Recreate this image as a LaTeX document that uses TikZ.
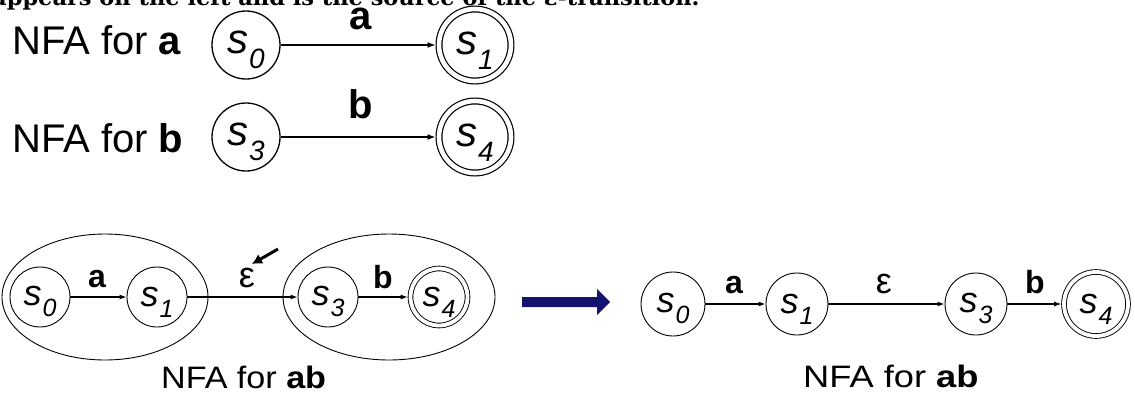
\documentclass[tikz,border=0pt]{standalone}
\usepackage{fontspec}
\setmainfont{Liberation Sans}
\newfontfamily\slabfont{DejaVu Serif}
\usetikzlibrary{arrows.meta,shapes.geometric}
\definecolor{navyarrow}{RGB}{20,20,112}
\newcommand\fs[1]{\fontsize{#1}{#1}\selectfont}
\newcommand\sttop[1]{\rule{0pt}{33pt}{\fs{42}\itshape s}\kern1pt\raisebox{-15pt}{\fs{28}\itshape #1}}
\newcommand\stbot[1]{\rule{0pt}{29pt}{\fs{36}\itshape s}\kern1pt\raisebox{-11pt}{\fs{25}\itshape #1}}
\tikzset{
  x=1pt, y=-1pt,
  stbig/.style={circle, draw, line width=1.3pt, minimum size=68pt, inner sep=0pt},
  acbig/.style={circle, draw, line width=1.2pt, double, double distance=4.6pt, minimum size=72pt, inner sep=0pt, outer sep=3.5pt},
  stsmall/.style={circle, draw, line width=0.9pt, minimum size=#1, inner sep=0pt},
  acsmall/.style={circle, draw, line width=0.9pt, double, double distance=3.8pt, minimum size=#1, inner sep=0pt, outer sep=2.8pt},
  group/.style={ellipse, draw, line width=0.9pt, inner sep=0pt},
  edgebig/.style={line width=1.3pt, -{Latex[length=8pt,width=6pt]}},
  edgesmall/.style={line width=1.1pt, -{Latex[length=7pt,width=5pt]}},
  lblbig/.style={anchor=base, font=\fs{40}\bfseries},
  lblsmall/.style={anchor=base, font=\fs{32}\bfseries},
  epslbl/.style={anchor=base, font=\fs{36}},
  capbig/.style={anchor=base west, font=\fs{40}, inner sep=0pt},
  capsmall/.style={anchor=base west, font=\fs{31}, inner sep=0pt},
  headline/.style={anchor=base west, inner sep=0pt, font=\slabfont\bfseries\fs{22.5}},
}
\begin{document}
\begin{tikzpicture}
\useasboundingbox (0,0) rectangle (1135,394);
\clip (0,0) rectangle (1135,394);
% cut-off heading line
\node[headline] (head) at (-8,5) {appears on the left and is the source of the ε-transition.};

% top: NFA for a / NFA for b
\node[capbig] (capa) at (12,54) {NFA for \textbf{a}};
\node[capbig] (capb) at (12,152) {NFA for \textbf{b}};
\node[stbig] (ta0) at (246,45) {\sttop{0}};
\node[acbig] (ta1) at (475,45) {\sttop{1}};
\node[stbig] (tb3) at (246,137) {\sttop{3}};
\node[acbig] (tb4) at (475,137) {\sttop{4}};
\draw[edgebig] (ta0) -- (ta1);
\draw[edgebig] (tb3) -- (tb4);
\node[lblbig] (la) at (361,29) {a};
\node[lblbig] (lb) at (361,118) {b};

% bottom left: combined with groups
\node[group, minimum width=206pt, minimum height=126pt] (g1) at (105,297) {};
\node[group, minimum width=212pt, minimum height=126pt] (g2) at (389,297) {};
\node[stsmall=60pt] (l0) at (40,297) {\stbot{0}};
\node[stsmall=60pt] (l1) at (157,297) {\stbot{1}};
\node[stsmall=60pt] (l3) at (328,297) {\stbot{3}};
\node[acsmall=57pt] (l4) at (439,297) {\stbot{4}};
\draw[edgesmall] (l0) -- (l1);
\draw[edgesmall] (l1) -- (l3);
\draw[edgesmall] (l3) -- (l4);
\node[lblsmall] (lla) at (97,287) {a};
\node[epslbl] (lle) at (247,287) {ε};
\node[lblsmall] (llb) at (383,288) {b};
\coordinate (ptrs) at (278,249);
\coordinate (ptre) at (252,264);
\draw[line width=3pt, -{Latex[length=10pt,width=11pt]}] (ptrs) -- (ptre);
\node[capsmall] (capl) at (161,388) {\scalebox{1.1}[1]{NFA for \textbf{ab}}};

% big blue arrow
\fill[navyarrow] (522,297) -- (597,297) -- (597,289) -- (610,302) -- (597,315) -- (597,307) -- (522,307) -- cycle;

% bottom right: result
\node[stsmall=64pt] (r0) at (673,304) {\stbot{0}};
\node[stsmall=62pt] (r1) at (797,304) {\stbot{1}};
\node[stsmall=62pt] (r3) at (976,304) {\stbot{3}};
\node[acsmall=64pt] (r4) at (1096,304) {\stbot{4}};
\draw[edgesmall] (r0) -- (r1);
\draw[edgesmall] (r1) -- (r3);
\draw[edgesmall] (r3) -- (r4);
\node[lblsmall] (rla) at (734,293) {a};
\node[epslbl] (rle) at (884,293) {ε};
\node[lblsmall] (rlb) at (1035,293) {b};
\node[capsmall] (capr) at (803,387) {\scalebox{1.17}[1]{NFA for \textbf{ab}}};
\end{tikzpicture}
\end{document}
